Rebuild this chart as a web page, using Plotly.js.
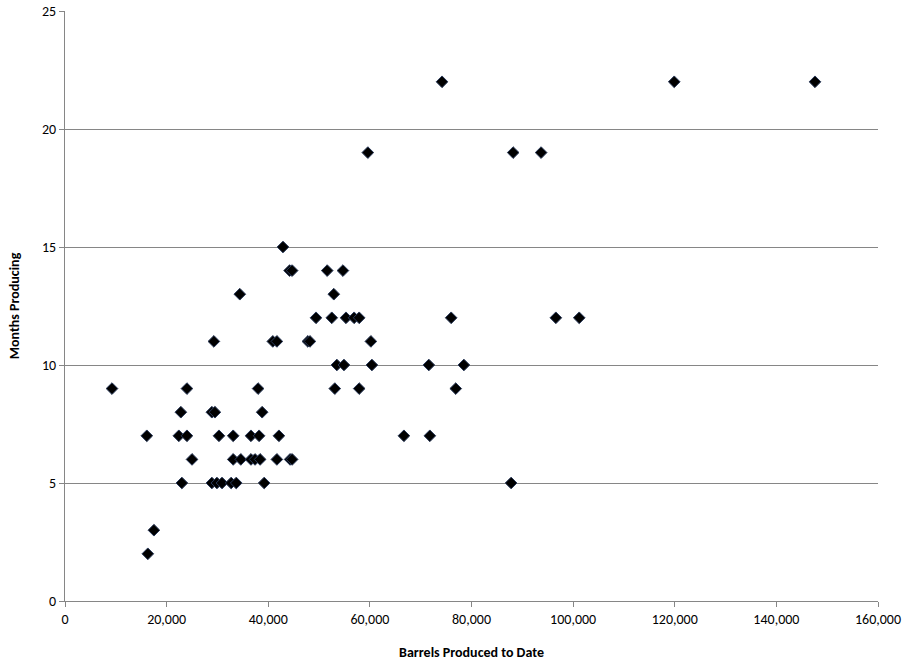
<!DOCTYPE html>
<html>
<head>
<meta charset="utf-8">
<script src="https://cdn.plot.ly/plotly-3.0.1.min.js"></script>
<style>html,body{margin:0;padding:0;background:#fff;}#chart{width:916px;height:664px;}</style>
</head>
<body>
<div id="chart"></div>
<script>
var barrels = [
  74200, 119900, 147600,
  59600, 88200, 93700,
  42900,
  44200, 44700, 51600, 54700,
  34400, 52900,
  49400, 52500, 55300, 56900, 57900, 76000, 96600, 101200,
  29300, 40900, 41700, 47800, 48200, 60200,
  53500, 54900, 60400, 71600, 78500,
  9250, 24000, 38000, 53100, 57900, 76900,
  22800, 28900, 29500, 38800,
  16100, 22400, 24000, 30300, 33100, 36600, 38200, 42100, 66700, 71800,
  25000, 33100, 34600, 36600, 37400, 38400, 41700, 44300, 44700,
  23000, 28900, 29900, 30900, 32700, 33700, 39200, 87800,
  17500,
  16300
];
var months = [
  22, 22, 22,
  19, 19, 19,
  15,
  14, 14, 14, 14,
  13, 13,
  12, 12, 12, 12, 12, 12, 12, 12,
  11, 11, 11, 11, 11, 11,
  10, 10, 10, 10, 10,
  9, 9, 9, 9, 9, 9,
  8, 8, 8, 8,
  7, 7, 7, 7, 7, 7, 7, 7, 7, 7,
  6, 6, 6, 6, 6, 6, 6, 6, 6,
  5, 5, 5, 5, 5, 5, 5, 5,
  3,
  2
];
var xTitle = "Barrels Produced to Date";
var yTitle = "Months Producing";

var fontFam = "Carlito, Lato, 'Open Sans', sans-serif";
var trace = {
  x: barrels, y: months, type: 'scatter', mode: 'markers',
  marker: {symbol: 'diamond', size: 9, color: '#000000', line: {color: '#2a3a5a', width: 1}},
  hoverinfo: 'none', showlegend: false
};
var layout = {
  width: 916, height: 664,
  margin: {l: 65, r: 38, t: 11, b: 63},
  paper_bgcolor: '#ffffff', plot_bgcolor: '#ffffff',
  font: {family: fontFam, size: 14, color: '#000'},
  separators: '.,',
  xaxis: {
    range: [0, 160000], dtick: 20000, tick0: 0, tickformat: ',d',
    showgrid: false, zeroline: false, showline: true, linecolor: '#868686', linewidth: 1,
    ticks: 'outside', ticklen: 5, tickcolor: '#868686',
    tickfont: {family: fontFam, size: 14, color: '#000'},
    title: {text: xTitle, font: {family: fontFam, size: 14, color: '#000', weight: 'bold'}, standoff: 20}
  },
  yaxis: {
    range: [0, 25], dtick: 5, tick0: 0,
    showgrid: true, gridcolor: '#868686', gridwidth: 1,
    zeroline: false, showline: true, linecolor: '#868686', linewidth: 1,
    ticks: 'outside', ticklen: 5, tickcolor: '#868686',
    tickfont: {family: fontFam, size: 14, color: '#000'},
    title: {text: yTitle, font: {family: fontFam, size: 14, color: '#000', weight: 'bold'}, standoff: 19}
  }
};
Plotly.newPlot('chart', [trace], layout, {staticPlot: true, displayModeBar: false});
</script>
</body>
</html>
